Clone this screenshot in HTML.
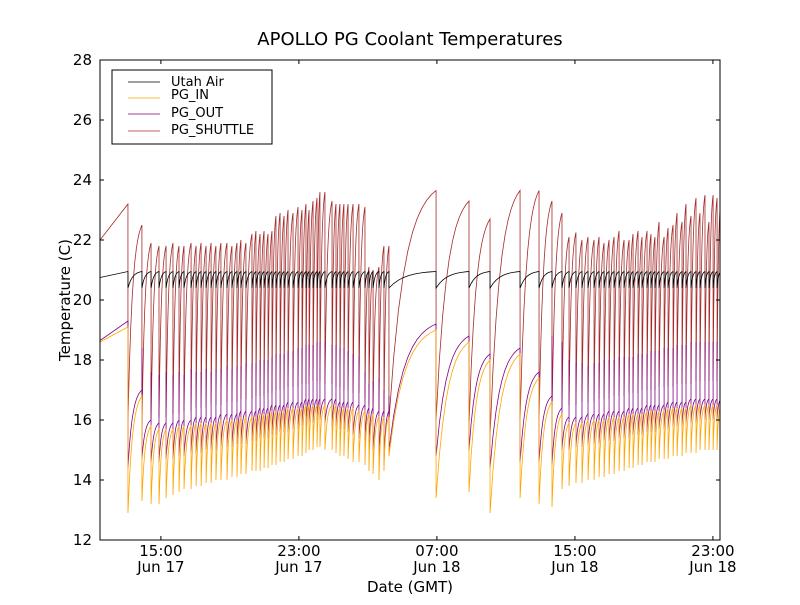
<!DOCTYPE html>
<html><head><meta charset="utf-8"><style>
body{margin:0;background:#fff;}
svg text{font-family:"DejaVu Sans","Liberation Sans",sans-serif;}
</style></head><body>
<svg id="chart" width="800" height="600" xmlns="http://www.w3.org/2000/svg">
<rect width="800" height="600" fill="#fff"/>
<defs><clipPath id="clip"><rect x="100" y="60" width="620" height="480"/></clipPath></defs>
<text x="410" y="45" font-size="18" text-anchor="middle">APOLLO PG Coolant Temperatures</text>
<text transform="translate(70,300) rotate(-90)" font-size="15" text-anchor="middle">Temperature (C)</text>
<text x="410" y="592" font-size="15" text-anchor="middle">Date (GMT)</text>
<g id="series" clip-path="url(#clip)"></g>
<rect x="100" y="60" width="620" height="480" fill="none" stroke="#000" stroke-width="1"/>
<g id="axes"></g>
<g>
<rect x="112" y="70" width="160" height="74" fill="#fff" stroke="#000" stroke-width="1"/>
<line x1="128" y1="82" x2="160" y2="82" stroke="#000" stroke-width="0.8"/>
<text x="171" y="86" font-size="13">Utah Air</text>
<line x1="128" y1="98" x2="160" y2="98" stroke="#ffa500" stroke-width="0.8"/>
<text x="171" y="99" font-size="13">PG_IN</text>
<line x1="128" y1="114" x2="160" y2="114" stroke="#800080" stroke-width="0.8"/>
<text x="171" y="117" font-size="13">PG_OUT</text>
<line x1="128" y1="131" x2="160" y2="131" stroke="#a52a2a" stroke-width="0.8"/>
<text x="171" y="134" font-size="13">PG_SHUTTLE</text>
</g>
</svg>
<script>
const startTime = 11.47, endTime = 47.41;
const startValues = [20.75, 18.6, 18.65, 22.0]; // air, in, out, shuttle
const yTicks = [12,14,16,18,20,22,24,26,28];
const xTickHours = [15,23,31,39,47];
const xTickTimes = ["15:00","23:00","07:00","15:00","23:00"];
const xTickDates = ["Jun 17","Jun 17","Jun 18","Jun 18","Jun 18"];
const airHigh = [20.95];
const airLow = [20.4];
const eventTimes = [13.09,13.90,14.43,14.89,15.30,15.70,16.05,16.34,16.75,17.04,17.33,17.62,17.91,18.19,18.48,18.83,19.12,19.41,19.64,19.93,20.28,20.51,20.75,20.98,21.21,21.44,21.67,21.91,22.14,22.37,22.66,22.95,23.18,23.41,23.59,23.82,24.05,24.22,24.51,24.92,25.15,25.38,25.61,25.85,26.14,26.48,26.83,27.06,27.30,27.64,27.93,28.22,30.95,32.86,34.08,35.82,36.92,37.67,38.25,38.66,39.06,39.41,39.76,40.11,40.40,40.69,40.98,41.27,41.56,41.85,42.14,42.37,42.66,42.89,43.18,43.41,43.64,43.88,44.17,44.40,44.69,44.92,45.21,45.44,45.73,46.02,46.25,46.54,46.77,47.01,47.24];
const shuttlePeak = [23.2,22.5,21.9,21.8,21.8,21.9,21.8,21.8,21.9,21.8,21.9,21.8,21.9,21.8,21.9,21.9,21.8,21.9,22.0,21.9,22.2,22.3,22.2,22.3,22.2,22.3,22.8,22.9,22.8,23.0,22.9,23.1,23.0,23.2,23.0,23.3,23.4,23.6,23.6,23.3,23.2,23.2,23.2,23.2,23.2,23.2,23.1,21.1,21.0,21.1,21.8,21.8,23.65,23.3,22.7,23.65,23.65,23.3,22.9,22.1,22.25,22.0,22.1,22.0,22.1,21.9,22.0,22.1,22.3,22.0,22.0,22.2,22.3,22.1,22.3,22.2,22.1,22.6,22.1,22.4,22.5,22.9,22.6,23.2,22.8,23.4,22.9,23.5,22.6,23.5,23.4];
const shuttleLow = [16.0,15.8,16.0,16.1,16.1,16.2,16.2,16.3,16.3,16.4,16.4,16.4,16.5,16.5,16.5,16.6,16.6,16.6,16.7,16.7,16.7,16.8,16.8,16.8,16.9,16.9,17.0,17.0,17.0,17.1,17.1,17.1,17.2,17.2,17.2,17.3,17.3,17.3,17.2,17.2,17.1,17.1,17.0,17.0,16.9,16.9,16.7,16.5,16.4,16.3,16.2,16.0,16.0,15.8,15.5,16.0,16.0,16.2,16.4,16.5,16.5,16.6,16.6,16.6,16.7,16.7,16.7,16.8,16.8,16.8,16.9,16.9,16.9,17.0,17.0,17.0,17.0,17.1,17.1,17.1,17.1,17.2,17.2,17.2,17.2,17.3,17.3,17.3,17.3,17.3,17.3];
const inPre = [19.1,16.8,15.8,15.7,15.7,15.7,15.8,15.8,15.8,15.9,15.9,15.9,15.9,15.9,16.0,16.0,16.0,16.0,16.1,16.1,16.1,16.1,16.2,16.2,16.2,16.3,16.3,16.3,16.3,16.4,16.4,16.4,16.4,16.5,16.5,16.5,16.5,16.5,16.5,16.5,16.5,16.4,16.4,16.4,16.4,16.3,16.3,16.2,16.2,16.1,16.1,16.1,19.0,18.6,18.0,18.2,17.4,16.6,16.2,15.9,15.9,15.9,16.0,16.0,16.0,16.0,16.1,16.1,16.1,16.1,16.2,16.2,16.2,16.2,16.3,16.3,16.3,16.3,16.3,16.4,16.4,16.4,16.4,16.4,16.5,16.5,16.5,16.5,16.5,16.5,16.5];
const inLow = [12.9,13.3,13.2,13.2,13.4,13.5,13.6,13.7,13.7,13.8,13.8,13.9,13.9,14.0,14.0,14.0,14.1,14.1,14.2,14.2,14.3,14.3,14.3,14.4,14.4,14.5,14.5,14.6,14.6,14.7,14.7,14.8,14.8,14.9,15.0,15.0,15.1,15.1,15.0,15.0,14.9,14.8,14.8,14.7,14.6,14.6,14.5,14.3,14.2,14.0,14.3,14.8,13.4,13.6,12.9,13.4,13.2,13.1,13.7,13.8,13.9,13.9,14.0,14.0,14.1,14.1,14.2,14.2,14.3,14.3,14.4,14.4,14.5,14.5,14.6,14.6,14.6,14.7,14.7,14.7,14.8,14.8,14.8,14.9,14.9,14.9,15.0,15.0,15.0,15.0,15.0];
const outPeak = [19.2,18.4,17.6,17.5,17.6,17.5,17.6,17.5,17.7,17.6,17.6,17.7,17.6,17.7,17.7,17.8,17.7,17.8,17.8,17.9,17.9,17.9,18.0,18.0,18.0,18.1,18.2,18.2,18.2,18.3,18.3,18.4,18.4,18.5,18.5,18.5,18.6,18.6,18.6,18.5,18.5,18.4,18.4,18.3,18.2,18.1,17.6,17.2,17.3,17.4,17.0,16.8,19.2,18.8,18.1,18.3,17.6,18.8,18.6,18.0,17.9,17.9,17.8,17.9,17.9,18.0,18.0,18.0,18.1,18.1,18.1,18.1,18.2,18.2,18.2,18.3,18.3,18.3,18.4,18.4,18.4,18.5,18.5,18.5,18.6,18.6,18.6,18.6,18.6,18.6,18.6];
const outLow = [14.4,14.7,14.6,14.6,14.7,14.7,14.8,14.8,14.9,14.9,14.9,15.0,15.0,15.0,15.1,15.1,15.1,15.2,15.2,15.2,15.3,15.3,15.4,15.4,15.4,15.5,15.5,15.6,15.6,15.6,15.7,15.7,15.8,15.8,15.9,15.9,16.0,16.0,15.9,15.8,15.8,15.7,15.7,15.6,15.5,15.4,15.3,15.1,15.0,14.8,14.5,15.0,14.8,15.0,14.4,14.6,14.6,14.5,15.0,15.0,15.1,15.1,15.2,15.2,15.2,15.3,15.3,15.3,15.4,15.4,15.4,15.5,15.5,15.5,15.6,15.6,15.6,15.7,15.7,15.7,15.8,15.8,15.8,15.9,15.9,15.9,16.0,16.0,16.0,16.0,16.0];

const X0=100,X1=720,Y0=60,Y1=540,YMIN=12,YMAX=28;
function xs(t){return X0+(t-startTime)/(endTime-startTime)*(X1-X0);}
function ys(v){return Y1-(v-YMIN)/(YMAX-YMIN)*(Y1-Y0);}
function rise(a,b,s){const k=3;return a+(b-a)*(1-Math.exp(-k*s))/(1-Math.exp(-k));}
const NS="http://www.w3.org/2000/svg";
const g=document.getElementById('series');
const n=eventTimes.length;
function buildPath(start,preAt,lowAt,peakAt){
  let pts=[[startTime,start],[eventTimes[0],preAt(0)]];
  for(let i=0;i<n;i++){
    const t=eventTimes[i];
    if(peakAt) pts.push([t,peakAt(i)]);
    pts.push([t,lowAt(i)]);
    const tn = i+1<n? eventTimes[i+1] : t+(t-eventTimes[i-1]);
    const target = i+1<n? preAt(i+1) : preAt(i);
    const steps=10;
    for(let s=1;s<=steps;s++){pts.push([t+(tn-t)*s/steps, rise(lowAt(i),target,s/steps)]);}
  }
  return pts.map((p,j)=>(j?'L':'M')+xs(p[0]).toFixed(2)+','+ys(p[1]).toFixed(2)).join('');
}
function addSeries(name,color,d){
  const p=document.createElementNS(NS,'path');
  p.setAttribute('d',d);p.setAttribute('fill','none');p.setAttribute('stroke',color);p.setAttribute('stroke-width','0.8');
  
  
  g.appendChild(p);
}
addSeries('pg-shuttle-line','#a52a2a',buildPath(startValues[3],i=>shuttlePeak[i],i=>shuttleLow[i],null));
addSeries('pg-out-line','#800080',buildPath(startValues[2],i=>inPre[i]+0.2,i=>outLow[i],i=>outPeak[i]));
addSeries('pg-in-line','#ffa500',buildPath(startValues[1],i=>inPre[i],i=>inLow[i],null));
addSeries('utah-air-line','#000',buildPath(startValues[0],i=>airHigh[0],i=>airLow[0],null));

const ax=document.getElementById('axes');
function ln(x1,y1,x2,y2,name){const l=document.createElementNS(NS,'line');l.setAttribute('x1',x1);l.setAttribute('y1',y1);l.setAttribute('x2',x2);l.setAttribute('y2',y2);l.setAttribute('stroke','#000');l.setAttribute('stroke-width','1');
  
  
  ax.appendChild(l);}
function tx(x,y,s,anchor,name){const t=document.createElementNS(NS,'text');t.setAttribute('x',x);t.setAttribute('y',y);t.setAttribute('font-size','15');t.setAttribute('text-anchor',anchor);t.textContent=s;
  
  
  ax.appendChild(t);}
yTicks.forEach(v=>{const y=ys(v);ln(X0,y,X0+4,y,'y-tick');ln(X1-4,y,X1,y,'y-tick-right');tx(X0-8,y+5,String(v),'end','y-tick-label');});
xTickHours.forEach((h,i)=>{const x=xs(h);ln(x,Y1,x,Y1-4,'x-tick');ln(x,Y0,x,Y0+4,'x-tick-top');tx(x,556,xTickTimes[i],'middle','x-tick-label');tx(x,572,xTickDates[i],'middle','x-tick-date-label');});
</script>
</body></html>
